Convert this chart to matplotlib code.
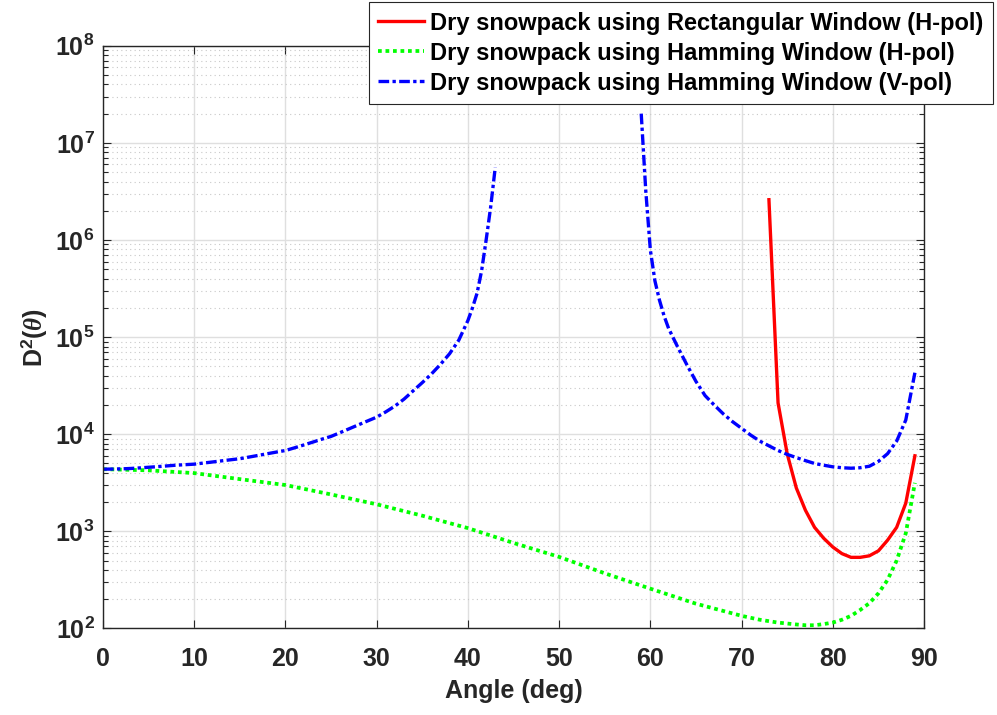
import math
import matplotlib
matplotlib.use("Agg")
import matplotlib.pyplot as plt
from matplotlib.ticker import FixedLocator, FuncFormatter, LogLocator, NullFormatter

plt.rcParams['font.family'] = ['Liberation Sans', 'DejaVu Sans']
plt.rcParams['font.weight'] = 'bold'
plt.rcParams['mathtext.fontset'] = 'custom'
plt.rcParams['mathtext.rm'] = 'Liberation Sans:bold'
plt.rcParams['mathtext.bf'] = 'Liberation Sans:bold'
plt.rcParams['mathtext.it'] = 'Liberation Serif:italic'

# ---- data ----
labels = ['Dry snowpack using Rectangular Window (H-pol)',
          'Dry snowpack using Hamming Window (H-pol)',
          'Dry snowpack using Hamming Window (V-pol)']

angle_rect = [73, 74, 75, 76, 77, 78, 79, 80, 81, 82, 83, 84, 85, 86, 87, 88, 89]
d2_rect = [2.6e6, 2.1e4, 6300, 2800, 1650, 1100, 850, 690, 590, 540, 540,
           560, 630, 810, 1100, 1950, 6000]

angle_ham_h = [0, 5, 10, 15, 20, 25, 30, 35, 40, 45, 50, 55, 60, 65, 70, 72, 74,
               76, 77, 78, 79, 80, 81, 82, 83, 84, 85, 86, 87, 88, 89]
d2_ham_h = [4370, 4250, 3980, 3450, 3000, 2400, 1900, 1450, 1080, 760, 546, 370,
            257, 180, 135, 123, 115, 110, 108, 108, 111, 115, 123, 135, 155, 182,
            230, 316, 500, 955, 3160]

angle_ham_v_low = [0, 1, 2, 3, 4, 5, 6, 7, 8, 9, 10, 11, 12, 13, 14, 15, 16, 17,
                   18, 19, 20, 21, 22, 23, 24, 25, 26, 27, 28, 29, 30, 31, 32, 33,
                   34, 35, 36, 37, 38, 39, 40, 40.5, 41, 41.5, 42, 42.5, 43]
d2_ham_v_low = [4370, 4380, 4400, 4440, 4500, 4570, 4640, 4720, 4800, 4860, 4920,
                5050, 5180, 5320, 5460, 5600, 5820, 6050, 6300, 6550, 6800, 7250,
                7750, 8300, 8900, 9500, 10400, 11400, 12500, 13700, 15000, 17000,
                19500, 23000, 28000, 34000, 41700, 52500, 67600, 93000, 148000,
                200000, 282000, 480000, 1000000, 2200000, 5600000]

angle_ham_v_high = [59, 59.5, 60, 60.5, 61, 61.5, 62, 63, 64, 65, 66, 67, 68, 69,
                    70, 71, 72, 73, 74, 75, 76, 77, 78, 79, 80, 81, 82, 83, 84, 85,
                    86, 87, 88, 89]
d2_ham_v_high = [2.0e7, 3.2e6, 7.9e5, 3.8e5, 2.4e5, 1.66e5, 1.23e5, 7.9e4, 5.2e4,
                 3.5e4, 2.5e4, 2.0e4, 1.62e4, 1.35e4, 1.15e4, 9800, 8500, 7600,
                 6800, 6200, 5750, 5350, 5000, 4800, 4620, 4520, 4470, 4520, 4680,
                 5250, 6300, 8500, 14000, 43000]

x_ticks = [0, 10, 20, 30, 40, 50, 60, 70, 80, 90]
y_decades = [2, 3, 4, 5, 6, 7, 8]

# ---- figure ----
fig = plt.figure(figsize=(9.97, 7.15), dpi=100)
ax = fig.add_axes([0.1033, 0.121, 0.8235, 0.815])

lw = 2.4
dashdot = (0, (3.2, 1.0, 1.0, 1.0))
ax.plot(angle_rect, d2_rect, color=(1, 0, 0), lw=lw, linestyle='-', label=labels[0])
ax.plot(angle_ham_h, d2_ham_h, color=(0, 1, 0), lw=2.7, linestyle=(0, (1, 1.0)),
        label=labels[1])
ax.plot(angle_ham_v_low, d2_ham_v_low, color=(0, 0, 1), lw=lw,
        linestyle=dashdot, label=labels[2])
ax.plot(angle_ham_v_high, d2_ham_v_high, color=(0, 0, 1), lw=lw, linestyle=dashdot)

ax.set_yscale('log')
ax.set_xlim(0, 90)
ax.set_ylim(1e2, 1e8)
ax.xaxis.set_major_locator(FixedLocator(x_ticks))
ax.yaxis.set_major_locator(FixedLocator([10.0 ** d for d in y_decades]))
ax.yaxis.set_minor_locator(LogLocator(base=10, subs=range(2, 10), numticks=20))
ax.yaxis.set_minor_formatter(NullFormatter())
ax.yaxis.set_major_formatter(FuncFormatter(
    lambda v, p: r'$\mathbf{10^{%d}}$' % round(math.log10(v))))

tc = '#262626'
ax.tick_params(axis='both', which='both', direction='in', top=True, right=True,
               colors=tc, labelsize=18)
ax.tick_params(axis='both', which='major', length=6, width=0.8)
ax.tick_params(axis='y', which='minor', length=3.5, width=0.8)
ax.tick_params(axis='x', pad=13)
ax.tick_params(axis='y', pad=6)
for lab in ax.get_xticklabels() + ax.get_yticklabels():
    lab.set_fontweight('bold')
    lab.set_color(tc)
for s in ax.spines.values():
    s.set_color('#262626')
    s.set_linewidth(1.0)

ax.grid(True, which='major', axis='both', color='#dfdfdf', linewidth=1.0, linestyle='-')
ax.grid(True, which='minor', axis='y', color='#c8c8c8', linewidth=0.8,
        linestyle=(0, (1, 3)))
ax.set_axisbelow(True)

ax.set_xlabel('Angle (deg)', fontsize=18, fontweight='bold', color=tc, labelpad=6)
ax.set_ylabel(r'D$^{\mathrm{2}}$($\theta$)', fontsize=18, fontweight='bold',
              color=tc, labelpad=4)

leg = fig.legend(loc='upper right', bbox_to_anchor=(0.996, 0.997),
                 bbox_transform=fig.transFigure, fontsize=17, frameon=True,
                 fancybox=False, edgecolor='#262626', framealpha=1,
                 handlelength=1.95, handletextpad=0.25, labelspacing=0.3,
                 borderpad=0.4, borderaxespad=0)
leg.get_frame().set_linewidth(0.8)
for t in leg.get_texts():
    t.set_fontweight('bold')
    t.set_color('black')

fig.savefig('out.png', dpi=100)
